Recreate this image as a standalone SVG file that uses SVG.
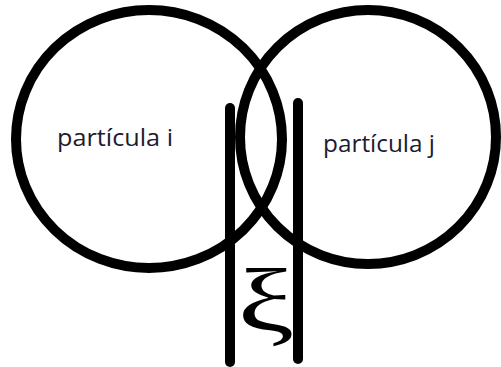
<svg xmlns="http://www.w3.org/2000/svg" width="501" height="367" viewBox="0 0 501 367">
<style>
.p{fill:none;stroke:#000;stroke-width:10}
.w{stroke:#000;stroke-width:10;stroke-linecap:round}
.t{font-family:"Open Sans","Liberation Sans",sans-serif;font-size:24px;fill:#1c1c30}
.x{font-family:"Liberation Serif",serif;font-size:88px;fill:#000}
</style>
<rect width="501" height="367" fill="#fff"/>
<g id="particula-i">
<ellipse class="p" cx="149" cy="139" rx="133" ry="129"/>
<text class="t" x="57" y="146" textLength="116" lengthAdjust="spacingAndGlyphs">partícula i</text>
</g>
<g id="particula-j">
<ellipse class="p" cx="368" cy="137" rx="128" ry="127"/>
<text class="t" x="323" y="152" textLength="112" lengthAdjust="spacingAndGlyphs">partícula j</text>
</g>
<g id="connectors">
<line class="w" x1="230" y1="108" x2="230" y2="362"/>
<line class="w" x1="298" y1="103" x2="298" y2="359"/>
</g>
<g id="xi">
<text class="x" transform="translate(266 331) scale(1.45 1)" x="0" y="0" text-anchor="middle">ξ</text>
</g>
</svg>
